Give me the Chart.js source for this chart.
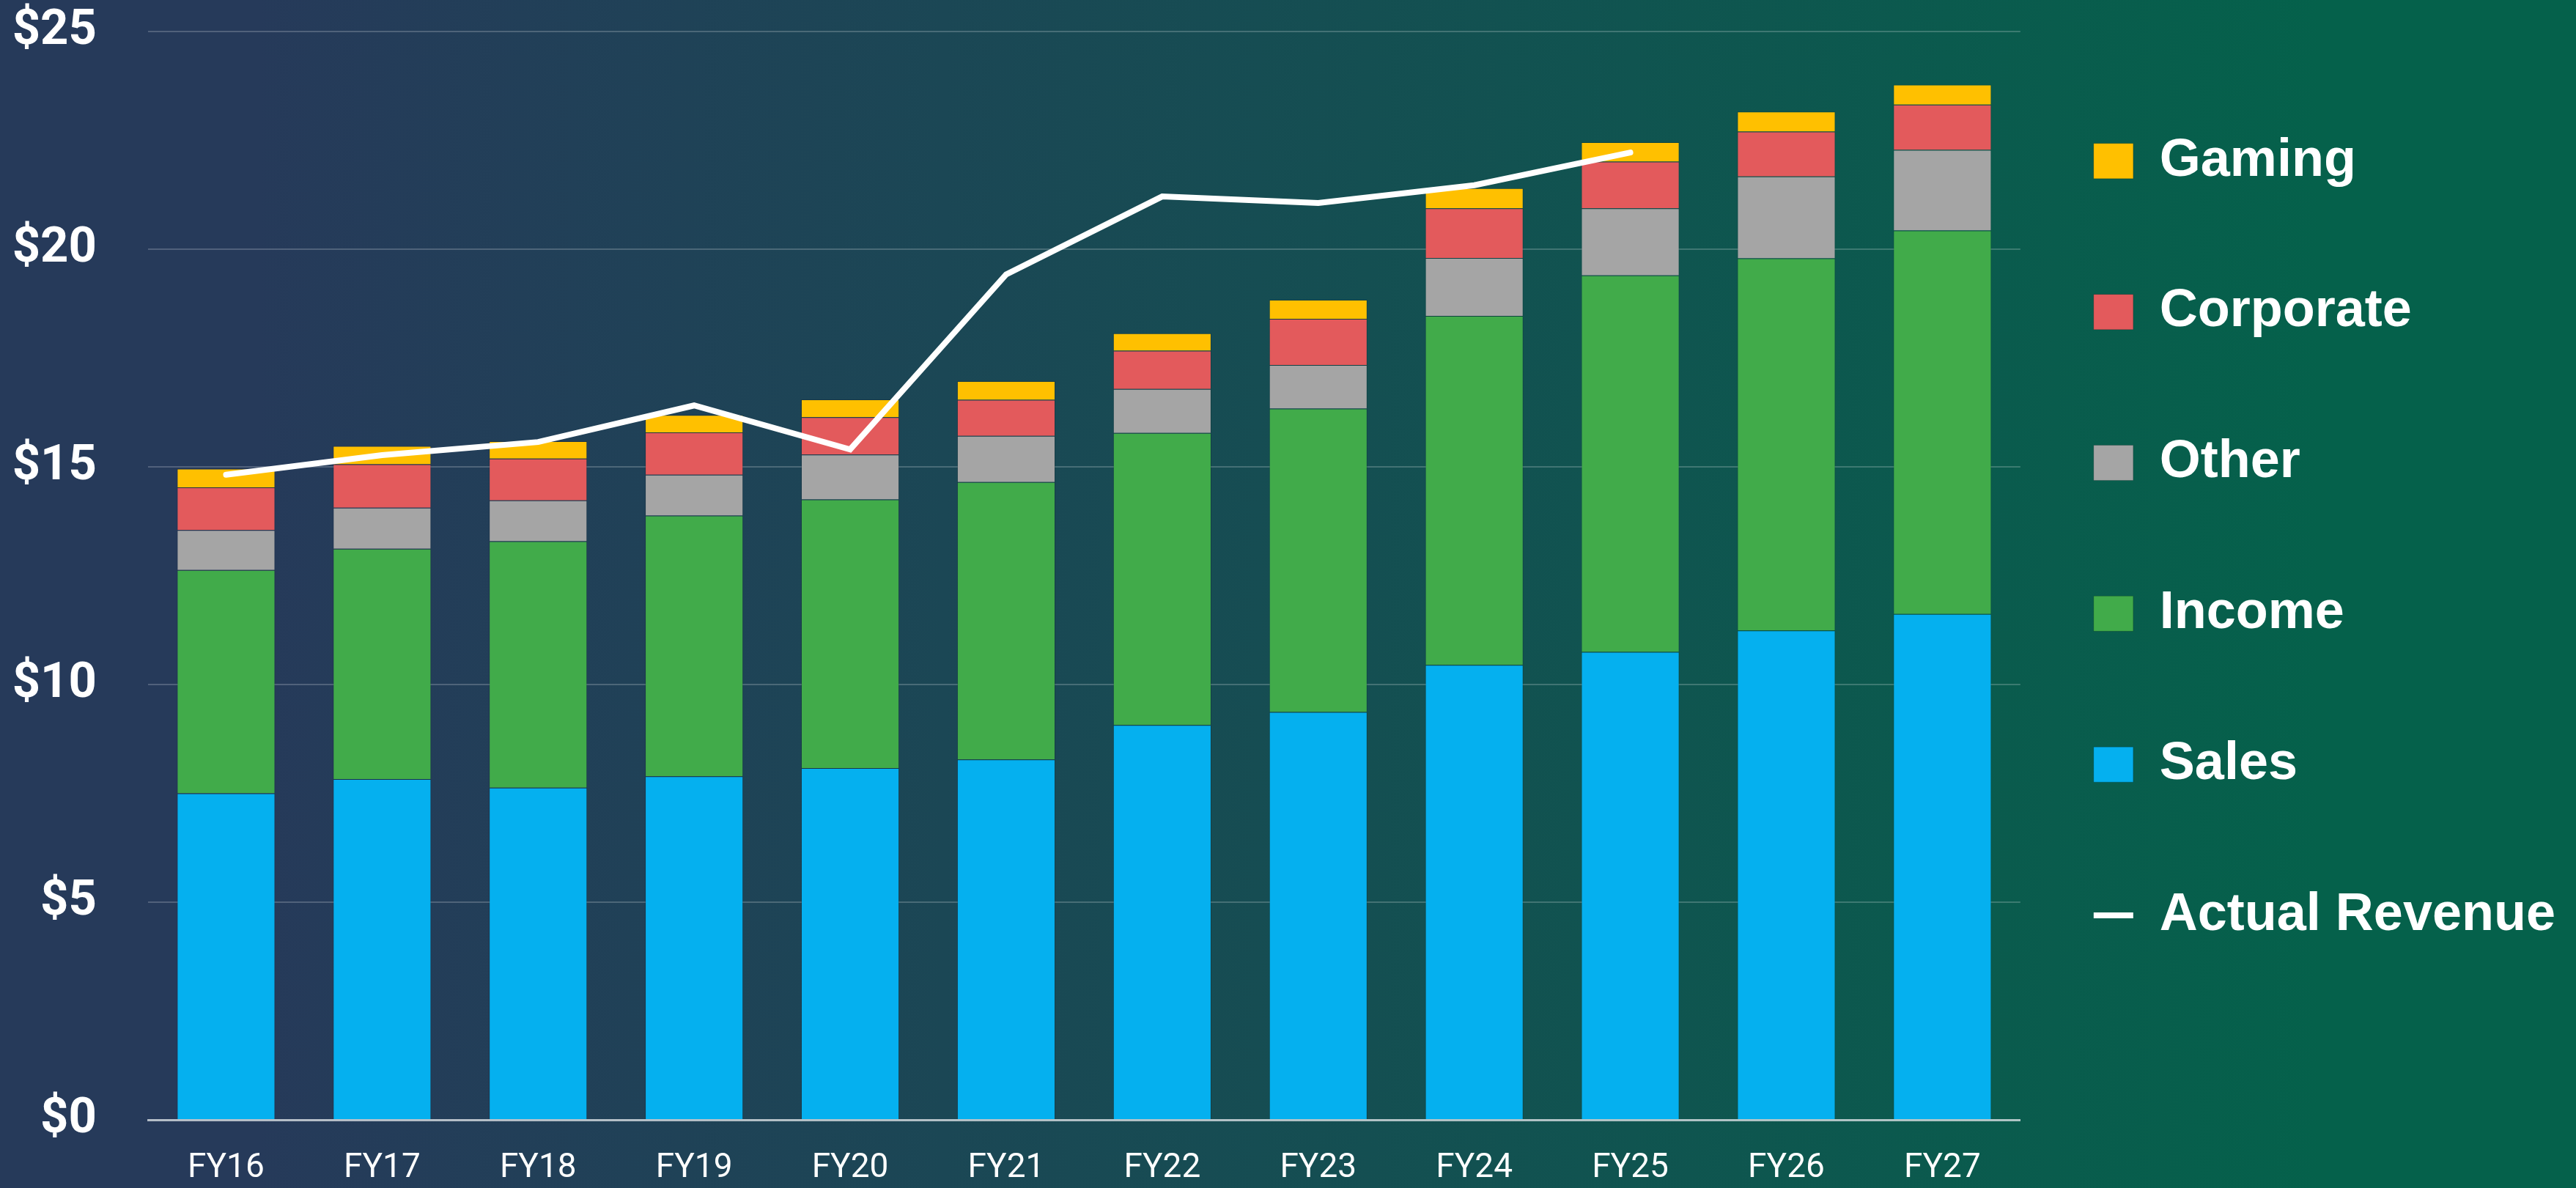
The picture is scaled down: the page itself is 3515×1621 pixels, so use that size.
<!DOCTYPE html>
<html lang="en">
<head>
<meta charset="UTF-8">
<title>Revenue by segment</title>
<script src="https://cdn.jsdelivr.net/npm/chart.js"></script>
<style>
  html, body { margin: 0; padding: 0; }
  body {
    width: 3515px; height: 1621px; overflow: hidden;
    background: linear-gradient(to right, #263a5a 0%, #263a5a 10%, #05614b 90%, #05614b 100%);
  }
  #wrap { position: relative; width: 3515px; height: 1621px; }
</style>
</head>
<body>
<div id="wrap"><canvas id="revChart"></canvas></div>

<script>
  // values ($ billions)
  const years = ['FY16','FY17','FY18','FY19','FY20','FY21','FY22','FY23','FY24','FY25','FY26','FY27'];
  const sales     = [7.50, 7.83, 7.63, 7.89, 8.08, 8.28, 9.07, 9.37, 10.45, 10.75, 11.24, 11.62];
  const income    = [5.13, 5.29, 5.66, 5.99, 6.17, 6.37, 6.71, 6.97, 8.02, 8.65, 8.55, 8.81];
  const other     = [0.92, 0.94, 0.94, 0.94, 1.03, 1.06, 1.01, 1.00, 1.33, 1.54, 1.88, 1.85];
  const corporate = [0.98, 1.00, 0.96, 0.97, 0.86, 0.83, 0.88, 1.06, 1.14, 1.07, 1.03, 1.04];
  const gaming    = [0.43, 0.42, 0.40, 0.40, 0.41, 0.43, 0.40, 0.44, 0.46, 0.45, 0.46, 0.46];
  const actualRevenue = [14.82, 15.27, 15.57, 16.41, 15.40, 19.42, 21.21, 21.06, 21.47, 22.22, null, null];
  const yTicks = [0, 5, 10, 15, 20, 25];
  const legendOrder = ['Gaming', 'Corporate', 'Other', 'Income', 'Sales', 'Actual Revenue'];

  function barSet(label, data, color) {
    return {
      type: 'bar', label: label, data: data,
      backgroundColor: color, borderColor: 'rgba(0,0,0,0.18)', borderWidth: 1,
      stack: 'segments', order: 1,
      barPercentage: 0.63, categoryPercentage: 1.0
    };
  }

  const ctx = document.getElementById('revChart').getContext('2d');

  new Chart(ctx, {
    data: {
      labels: years,
      datasets: [
        barSet('Sales', sales, '#05b0ef'),
        barSet('Income', income, '#41ab4a'),
        barSet('Other', other, '#a5a5a5'),
        barSet('Corporate', corporate, '#e35a5c'),
        barSet('Gaming', gaming, '#ffc000'),
        {
          type: 'line', label: 'Actual Revenue', data: actualRevenue,
          borderColor: '#ffffff', backgroundColor: '#ffffff', borderWidth: 8,
          pointRadius: 0, tension: 0, borderCapStyle: 'round',
          stack: 'revenue', order: 0, spanGaps: false
        }
      ]
    },
    options: {
      responsive: true,
      maintainAspectRatio: false,
      animation: false,
      layout: { padding: { top: 43, left: 19, right: 18, bottom: 0 } },
      plugins: {
        tooltip: { enabled: false },
        legend: {
          position: 'right',
          align: 'start',
          title: { display: true, text: '', padding: 0, font: { size: 34, lineHeight: 1.2 } },
          labels: {
            color: '#ffffff',
            font: { family: "'Liberation Sans', Arial, sans-serif", size: 72, weight: 'bold', lineHeight: 1.47 },
            padding: 100,
            usePointStyle: true,
            pointStyleWidth: 54,
            boxHeight: 48,
            generateLabels: function (chart) {
              const items = Chart.defaults.plugins.legend.labels.generateLabels(chart);
              items.forEach(function (it) {
                const ds = chart.data.datasets[it.datasetIndex];
                it.pointStyle = ds.type === 'line' ? 'line' : 'rect';
                it.text = [it.text];
              });
              return items;
            },
            sort: function (a, b) {
              return legendOrder.indexOf(a.text[0]) - legendOrder.indexOf(b.text[0]);
            }
          }
        }
      },
      scales: {
        x: {
          stacked: true,
          grid: { display: false, drawTicks: false },
          border: { display: true, color: 'rgba(220,225,230,0.75)', width: 3 },
          ticks: {
            color: '#ffffff', padding: 39,
            font: { family: 'Roboto, sans-serif', size: 46 }
          },
          afterFit: function (axis) { axis.height = 93; }
        },
        y: {
          stacked: true,
          min: 0, max: 25,
          afterBuildTicks: function (axis) { axis.ticks = yTicks.map(function (v) { return { value: v }; }); },
          grid: { color: 'rgba(255,255,255,0.2)', lineWidth: 2, drawTicks: false },
          border: { display: false },
          ticks: {
            color: '#ffffff', padding: 70,
            font: { family: 'Roboto, sans-serif', size: 67, weight: 'bold' },
            callback: function (v) { return '$' + v; }
          },
          afterFit: function (axis) {
            axis.width = 183;
            axis.paddingTop = 40;
            axis.paddingBottom = 40;
          }
        }
      }
    }
  });
</script>
</body>
</html>
